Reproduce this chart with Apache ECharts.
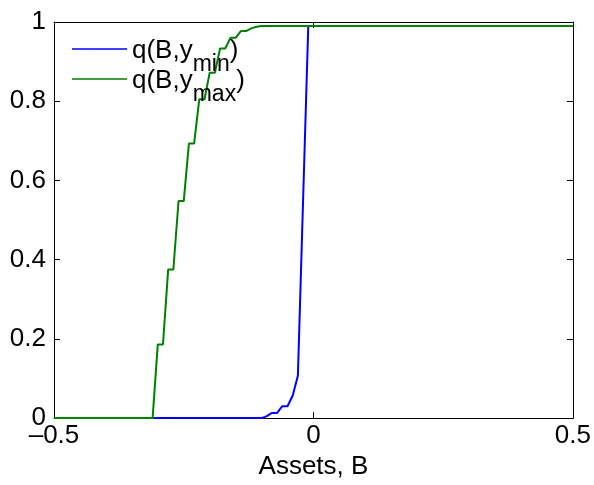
<!DOCTYPE html>
<html>
<head>
<meta charset="utf-8">
<script src="https://cdn.jsdelivr.net/npm/echarts@6/dist/echarts.min.js"></script>
<style>html,body{margin:0;padding:0;background:#fff}#c{width:594px;height:485px}</style>
</head>
<body>
<div id="c"></div>
<script>
// Blue series: q(B, y_min)
var blueB = [-0.5, -0.10, -0.09, -0.08, -0.07, -0.06, -0.05, -0.04, -0.03, -0.02, -0.01, 0.5];
var blueQ = [0, 0, 0.005, 0.013, 0.013, 0.030, 0.030, 0.057, 0.107, 0.55, 0.99, 0.99];
// Green series: q(B, y_max)
var greenB = [-0.5, -0.31, -0.30, -0.29, -0.28, -0.27, -0.26, -0.25, -0.24, -0.23, -0.22, -0.21, -0.20, -0.19, -0.18, -0.17, -0.16, -0.15, -0.14, -0.13, -0.12, -0.11, -0.10, 0.5];
var greenQ = [0, 0, 0.186, 0.186, 0.375, 0.375, 0.548, 0.548, 0.693, 0.693, 0.805, 0.805, 0.872, 0.872, 0.933, 0.933, 0.960, 0.960, 0.977, 0.977, 0.984, 0.988, 0.99, 0.99];
var xTicks = [-0.5, 0, 0.5];
var yTicks = [0, 0.2, 0.4, 0.6, 0.8, 1];

function pairs(xs, ys){ return xs.map(function(x,i){ return [x, ys[i]]; }); }

var font = 'Liberation Sans, Arial, sans-serif';
var chart = echarts.init(document.getElementById('c'), null, {renderer:'canvas'});
function axisCommon(){ return {
  axisLine:{show:true, onZero:false, lineStyle:{color:'#000', width:1}},
  axisTick:{show:true, inside:true, length:6, lineStyle:{color:'#000', width:1}},
  splitLine:{show:false}
};}
chart.setOption({
  animation:false,
  backgroundColor:'#fff',
  grid:{left:54, right:20, top:22, bottom:62},
  legend:{
    orient:'vertical', left:72, top:38, padding:0, itemWidth:55, itemHeight:26, itemGap:-10,
    icon:'path://M0,0L0,0L0,0ZM0,26L0,26L0,26ZM0,3.25L55,3.25L55,4.75L0,4.75Z',
    textStyle:{
      fontFamily:font, fontSize:26, color:'#000',
      rich:{
        a:{fontFamily:font, fontSize:26, color:'#000', lineHeight:26, padding:[0,0,14,0]},
        s:{fontFamily:font, fontSize:23, color:'#000', lineHeight:26, padding:[14,0,0,0]}
      }
    },
    formatter:function(n){
      if(n==='min') return '{a|q(B,y}{s|min}{a|)}';
      return '{a|q(B,y}{s|max}{a|)}';
    },
    data:['min','max']
  },
  xAxis:[Object.assign(axisCommon(), {
    type:'value', min:-0.5, max:0.5, interval:0.5, position:'bottom',
    name:'Assets, B', nameLocation:'middle', nameGap:32,
    nameTextStyle:{fontFamily:font, fontSize:26, color:'#000'},
    axisLabel:{fontFamily:font, fontSize:26, color:'#000', margin:5,
      formatter:function(v){ var t=xTicks.indexOf(v)>=0?String(v):''; return t.replace('-', '\u2013'); }}
  }),
  Object.assign(axisCommon(), {type:'value', min:-0.5, max:0.5, interval:0.5, position:'top', axisLabel:{show:false}})],
  yAxis:[Object.assign(axisCommon(), {
    type:'value', min:0, max:1, interval:0.2, position:'left',
    axisLabel:{fontFamily:font, fontSize:26, color:'#000', margin:8,
      formatter:function(v){ var r=Math.round(v*10)/10; return yTicks.indexOf(r)>=0?String(r):''; }}
  }),
  Object.assign(axisCommon(), {type:'value', min:0, max:1, interval:0.2, position:'right', axisLabel:{show:false}})],
  series:[
    {name:'min', type:'line', symbol:'none', data:pairs(blueB, blueQ), lineStyle:{color:'#0000ff', width:2}, itemStyle:{color:'#0000ff'}, z:2},
    {name:'max', type:'line', symbol:'none', data:pairs(greenB, greenQ), lineStyle:{color:'#008000', width:2}, itemStyle:{color:'#008000'}, z:3}
  ]
});
</script>
</body>
</html>
